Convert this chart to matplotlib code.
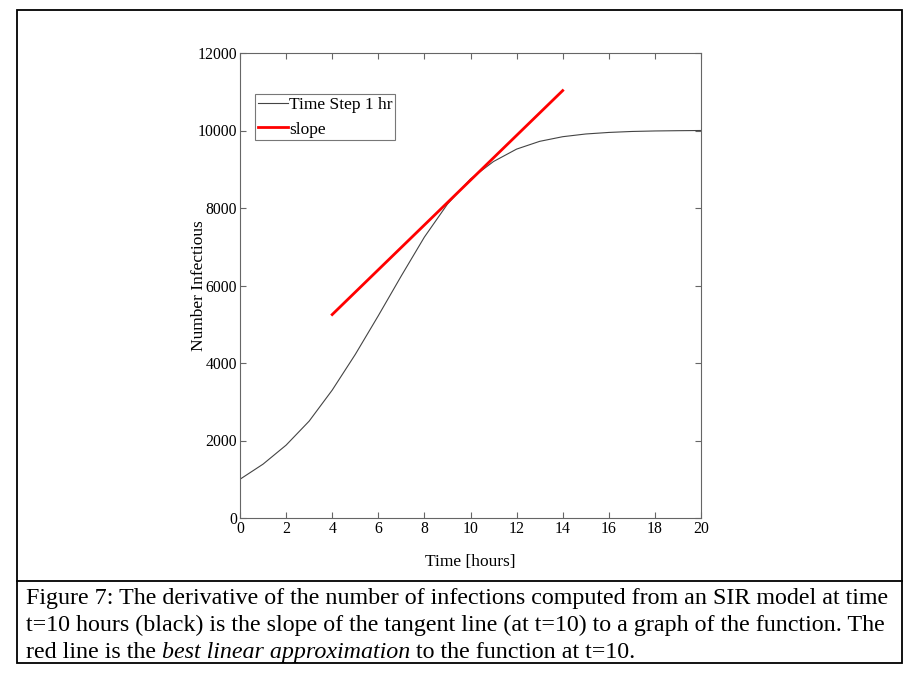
import matplotlib
matplotlib.use('Agg')
import matplotlib.pyplot as plt
from matplotlib.patches import Rectangle
from matplotlib.lines import Line2D

# данные
t = list(range(0, 21))
infected = [1000, 1390, 1880, 2500, 3300, 4220, 5220, 6250, 7250, 8100, 8750,
            9200, 9520, 9720, 9840, 9910, 9950, 9975, 9988, 9995, 10000]
slope_t = [4, 14]
slope_y = [5250, 11030]

xticks = list(range(0, 21, 2))
yticks = list(range(0, 12001, 2000))

plt.rcParams['font.family'] = ['Liberation Serif', 'DejaVu Serif']

fig = plt.figure(figsize=(9.13, 6.88), dpi=100)
ax = fig.add_axes([240 / 913, 1 - 518 / 688, 461 / 913, 465 / 688])

ax.plot(t, infected, color='#444444', lw=0.8, label='Time Step 1 hr')
ax.plot(slope_t, slope_y, color='red', lw=2.0, label='slope')

ax.set_xlim(0, 20)
ax.set_ylim(0, 12000)
ax.set_xticks(xticks)
ax.set_yticks(yticks)
ax.tick_params(direction='in', top=True, right=True, labelsize=11.3, length=4,
               color='#666666', width=0.8, pad=2)
for s in ax.spines.values():
    s.set_color('#666666')
    s.set_linewidth(0.8)

ax.set_xlabel('Time [hours]', fontsize=12.5)
ax.set_ylabel('Number Infectious', fontsize=12.5)
ax.xaxis.set_label_coords(0.5, (518 - 554) / 465)
ax.yaxis.set_label_coords((207 - 240) / 461, 0.5)

leg = ax.legend(loc='upper left', bbox_to_anchor=(0.033, 0.912), fontsize=12.5,
                frameon=True, fancybox=False, borderpad=0.15, handlelength=1.75,
                handletextpad=0.05, labelspacing=0.5, borderaxespad=0)
leg.get_frame().set_edgecolor('#555555')
leg.get_frame().set_linewidth(0.8)

# рамка вокруг рисунка и подписи
fig.patches.append(Rectangle((16.5 / 913, 1 - 663 / 688), (902 - 16.5) / 913,
                             (663 - 10) / 688, transform=fig.transFigure,
                             fill=False, edgecolor='black', lw=1.3))
fig.lines.append(Line2D([16.5 / 913, 902 / 913], [1 - 581 / 688, 1 - 581 / 688],
                        transform=fig.transFigure, color='black', lw=1.3))

cap_fs = 17.3
x0 = 26 / 913
fig.text(x0, 1 - 604 / 688, 'Figure 7: The derivative of the number of infections computed '
         'from an SIR model at time', fontsize=cap_fs, va='baseline')
fig.text(x0, 1 - 631 / 688, 't=10 hours (black) is the slope of the tangent line (at t=10) '
         'to a graph of the function. The', fontsize=cap_fs, va='baseline')
p1 = fig.text(x0, 1 - 658 / 688, 'red line is the ', fontsize=cap_fs, va='baseline')
p2 = fig.text(0, 0, 'best linear approximation', fontsize=cap_fs, style='italic',
              va='baseline')
p3 = fig.text(0, 0, ' to the function at t=10.', fontsize=cap_fs, va='baseline')

# ставим куски третьей строки друг за другом
fig.canvas.draw()
r = fig.canvas.get_renderer()
w1 = p1.get_window_extent(r).width / fig.bbox.width
p2.set_position((x0 + w1, 1 - 658 / 688))
w2 = p2.get_window_extent(r).width / fig.bbox.width
p3.set_position((x0 + w1 + w2, 1 - 658 / 688))

fig.savefig('out.png', dpi=100)
